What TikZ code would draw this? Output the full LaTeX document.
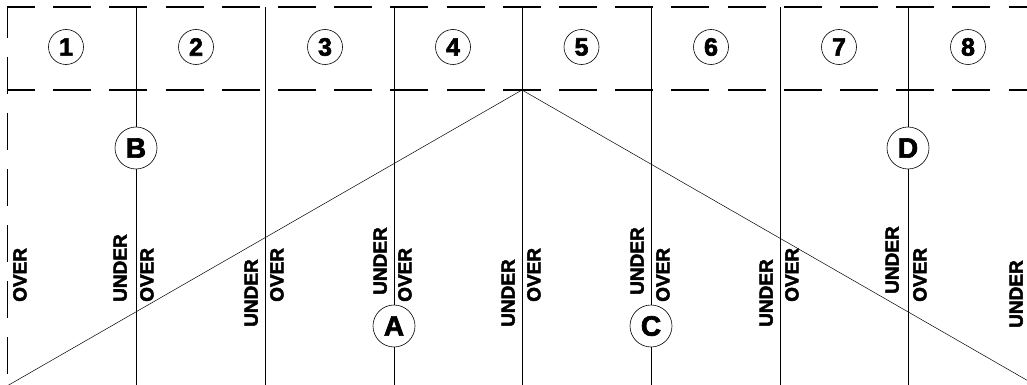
\documentclass[tikz,border=0pt]{standalone}
\usepackage{fontspec}
\setmainfont{Liberation Sans}[BoldFeatures={FakeBold=2.5}]
\begin{document}
\begin{tikzpicture}[x=1pt, y=-1pt,
        numero/.style={draw, circle, line width=0.6pt, minimum size=35pt, inner sep=0pt, font=\fontsize{25}{25}\selectfont\bfseries},
        letra/.style={draw, circle, line width=0.6pt, minimum size=42pt, inner sep=0pt, fill=white, font=\fontsize{28}{28}\selectfont\bfseries},
        rotulo/.style={rotate=90, inner sep=0pt, font=\fontsize{19}{19}\selectfont\bfseries},
        eje/.style={line width=0.9pt},
        corte/.style={line width=1.5pt, dash pattern=on 38pt off 18.2pt, dash phase=10pt},
        borde/.style={line width=1pt, dash pattern=on 37pt off 19pt, dash phase=6pt},
        diag/.style={line width=0.5pt}
    ]
    \clip (0,0) rectangle (1027,385);

    % grid bands
    \draw [corte] (7,7) -- (1040,7);
    \draw [corte] (7,90) -- (1040,90);
    \draw [borde] (7,7) -- (7,385);

    % circled letters on the axes
    \node (B) [letra] at (136,148) {B};
    \node (A) [letra] at (394,326) {A};
    \node (C) [letra] at (651,326) {C};
    \node (D) [letra] at (908,148) {D};

    \draw [eje] (136,7) -- (B) -- (136,385);
    \draw [eje] (265,7) -- (265,385);
    \draw [eje] (394,7) -- (A) -- (394,385);
    \draw [eje] (522,7) -- (522,385);
    \draw [eje] (651,7) -- (C) -- (651,385);
    \draw [eje] (780,7) -- (780,385);
    \draw [eje] (908,7) -- (D) -- (908,385);

    % diagonals
    \coordinate (cima) at (522,90);
    \coordinate (izq) at (7,386);
    \coordinate (der) at (1037,386);
    \draw [diag] (izq) -- (cima) -- (der);

    % bay numbers
    \node (n1) [numero] at (66,47) {1};
    \node (n2) [numero] at (196,47) {2};
    \node (n3) [numero] at (325,47) {3};
    \node (n4) [numero] at (453,47) {4};
    \node (n5) [numero] at (581.5,47) {5};
    \node (n6) [numero] at (711,47) {6};
    \node (n7) [numero] at (839,47) {7};
    \node (n8) [numero] at (968,47) {8};

    % under / over labels
    \node (over0) [rotulo, anchor=north west] at (13,302) {OVER};
    \node (under1) [rotulo, anchor=south west] at (127,302) {UNDER};
    \node (over1) [rotulo, anchor=north west] at (140,302) {OVER};
    \node (under2) [rotulo, anchor=south west] at (258,327) {UNDER};
    \node (over2) [rotulo, anchor=north west] at (270,302) {OVER};
    \node (under3) [rotulo, anchor=south west] at (387,295) {UNDER};
    \node (over3) [rotulo, anchor=north west] at (398,302) {OVER};
    \node (under4) [rotulo, anchor=south west] at (515,327) {UNDER};
    \node (over4) [rotulo, anchor=north west] at (527,302) {OVER};
    \node (under5) [rotulo, anchor=south west] at (644,295) {UNDER};
    \node (over5) [rotulo, anchor=north west] at (656,302) {OVER};
    \node (under6) [rotulo, anchor=south west] at (773,327) {UNDER};
    \node (over6) [rotulo, anchor=north west] at (785,302) {OVER};
    \node (under7) [rotulo, anchor=south west] at (899,294) {UNDER};
    \node (over7) [rotulo, anchor=north west] at (913,302) {OVER};
    \node (under8) [rotulo, anchor=south west] at (1023,328) {UNDER};
\end{tikzpicture}
\end{document}
